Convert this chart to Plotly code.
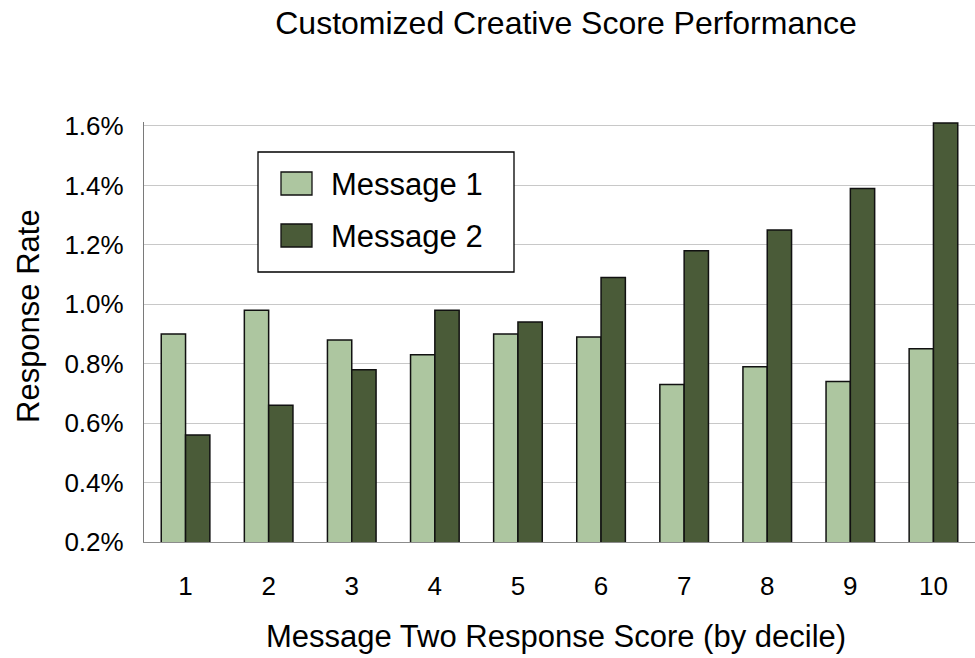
import plotly.graph_objects as go

deciles = ["1", "2", "3", "4", "5", "6", "7", "8", "9", "10"]
series_names = ["Message 1", "Message 2"]
message1 = [0.90, 0.98, 0.88, 0.83, 0.90, 0.89, 0.73, 0.79, 0.74, 0.85]
message2 = [0.56, 0.66, 0.78, 0.98, 0.94, 1.09, 1.18, 1.25, 1.39, 1.61]
y_tickvals = [0.2, 0.4, 0.6, 0.8, 1.0, 1.2, 1.4, 1.6]
y_ticktext = ["0.2%", "0.4%", "0.6%", "0.8%", "1.0%", "1.2%", "1.4%", "1.6%"]
colors = ["#ADC6A0", "#4A5B38"]

FONT = "Liberation Sans, Arial, sans-serif"
W, H = 975, 658
L, R, T, B = 144, 0, 122, 116
PW, PH = W - L - R, H - T - B


def px2x(px):
    return (px - L) / PW


def px2y(py):
    return (H - B - py) / PH


fig = go.Figure()
for name, vals, col in zip(series_names, [message1, message2], colors):
    fig.add_trace(go.Bar(
        x=deciles, y=vals, name=name,
        marker=dict(color=col, line=dict(color="#111111", width=1.5)),
        showlegend=False,
    ))

# manual legend box
shapes = [dict(type="rect", xref="paper", yref="paper",
               x0=px2x(258), x1=px2x(514), y0=px2y(272), y1=px2y(152),
               line=dict(color="#000000", width=1.3), fillcolor="white", layer="above")]
annotations = []
for i, (name, col) in enumerate(zip(series_names, colors)):
    cy = 183.5 + i * 52
    shapes.append(dict(type="rect", xref="paper", yref="paper",
                       x0=px2x(281), x1=px2x(312), y0=px2y(cy + 11.5), y1=px2y(cy - 11.5),
                       line=dict(color="#111111", width=1.3), fillcolor=col, layer="above"))
    annotations.append(dict(text=name, xref="paper", yref="paper", x=px2x(329), y=px2y(cy + 1),
                            xanchor="left", yanchor="middle", showarrow=False,
                            font=dict(size=31, color="#000000", family=FONT)))

annotations.append(dict(text="Response Rate", xref="paper", yref="paper",
                        x=px2x(28), y=px2y(316), xanchor="center", yanchor="middle",
                        textangle=-90, showarrow=False,
                        font=dict(size=31, color="#000000", family=FONT)))
annotations.append(dict(text="Message Two Response Score (by decile)", xref="paper", yref="paper",
                        x=px2x(556), y=px2y(636), xanchor="center", yanchor="middle",
                        showarrow=False, font=dict(size=31, color="#000000", family=FONT)))

fig.update_layout(
    width=W, height=H,
    margin=dict(l=L, r=R, t=T, b=B, pad=0),
    paper_bgcolor="white", plot_bgcolor="white",
    barmode="group", bargap=0.415, bargroupgap=0,
    font=dict(family=FONT, color="#000000"),
    title=dict(text="Customized Creative Score Performance", x=566 / W, y=1 - 23 / H,
               xanchor="center", yanchor="middle",
               font=dict(size=32, color="#000000", family=FONT)),
    shapes=shapes, annotations=annotations,
)
fig.update_xaxes(showgrid=False, showline=True, linecolor="#8c8c8c", linewidth=1.3,
                 ticks="", tickfont=dict(size=26, color="#000000"), ticklabelstandoff=21)
fig.update_yaxes(range=[0.2, 1.6134], tickvals=y_tickvals, ticktext=y_ticktext,
                 showgrid=True, gridcolor="#c8c8c8", gridwidth=1.2, zeroline=False,
                 showline=True, linecolor="#7a7a7a", linewidth=1.3, ticks="",
                 tickfont=dict(size=26, color="#000000"), ticklabelstandoff=14)

fig.write_html("out.html")
